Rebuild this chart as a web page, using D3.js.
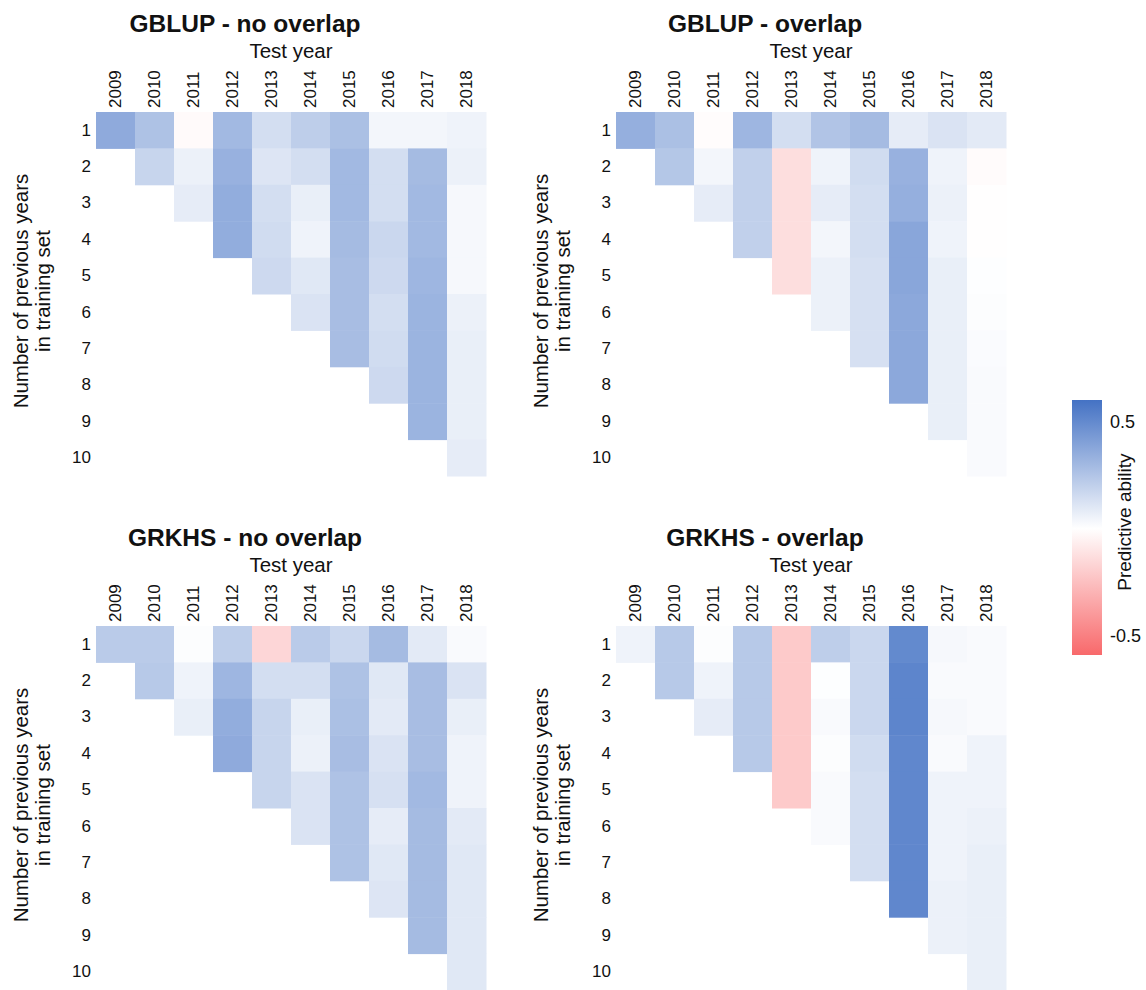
<!DOCTYPE html>
<html>
<head>
<meta charset="utf-8">
<script src="https://cdn.jsdelivr.net/npm/d3@7"></script>
<style>
  body { margin: 0; background: #fff; }
  svg text { font-family: "Liberation Sans", Arial, sans-serif; fill: #111; }
</style>
</head>
<body>
<div id="chart"></div>
<script>
// Test years (columns) and number of previous years in training set (rows)
const years = [2009, 2010, 2011, 2012, 2013, 2014, 2015, 2016, 2017, 2018];
const prevYears = [1, 2, 3, 4, 5, 6, 7, 8, 9, 10];

// One array per test year, values for rows 1..k
const gblupNoOverlap = [
  [0.36],
  [0.26, 0.18],
  [-0.02, 0.06, 0.08],
  [0.30, 0.33, 0.35, 0.35],
  [0.14, 0.11, 0.14, 0.15, 0.16],
  [0.21, 0.14, 0.07, 0.05, 0.10, 0.12],
  [0.27, 0.30, 0.30, 0.29, 0.28, 0.28, 0.28],
  [0.04, 0.14, 0.14, 0.17, 0.16, 0.14, 0.15, 0.16],
  [0.04, 0.29, 0.30, 0.30, 0.31, 0.32, 0.32, 0.32, 0.32],
  [0.05, 0.06, 0.03, 0.03, 0.03, 0.06, 0.07, 0.07, 0.07, 0.08]
];
const gblupOverlap = [
  [0.34],
  [0.27, 0.24],
  [-0.01, 0.04, 0.08],
  [0.31, 0.20, 0.20, 0.20],
  [0.14, -0.13, -0.13, -0.13, -0.13],
  [0.25, 0.05, 0.08, 0.04, 0.06, 0.06],
  [0.29, 0.15, 0.14, 0.14, 0.13, 0.13, 0.13],
  [0.08, 0.33, 0.34, 0.38, 0.38, 0.37, 0.37, 0.37],
  [0.12, 0.05, 0.06, 0.05, 0.07, 0.07, 0.07, 0.07, 0.07],
  [0.09, -0.015, -0.005, -0.005, 0.005, 0.01, 0.015, 0.02, 0.02, 0.02]
];
const grkhsNoOverlap = [
  [0.22],
  [0.22, 0.23],
  [0.01, 0.05, 0.07],
  [0.21, 0.31, 0.35, 0.36],
  [-0.16, 0.14, 0.18, 0.18, 0.18],
  [0.22, 0.14, 0.07, 0.06, 0.12, 0.12],
  [0.17, 0.26, 0.27, 0.28, 0.26, 0.26, 0.26],
  [0.29, 0.10, 0.09, 0.12, 0.13, 0.08, 0.10, 0.11],
  [0.09, 0.28, 0.28, 0.28, 0.30, 0.29, 0.29, 0.29, 0.29],
  [0.02, 0.12, 0.07, 0.05, 0.05, 0.09, 0.10, 0.10, 0.10, 0.10]
];
const grkhsOverlap = [
  [0.05],
  [0.23, 0.23],
  [0.01, 0.05, 0.08],
  [0.23, 0.23, 0.23, 0.23],
  [-0.21, -0.21, -0.21, -0.21, -0.21],
  [0.21, 0.005, 0.02, 0.01, 0.02, 0.02],
  [0.17, 0.17, 0.17, 0.15, 0.14, 0.14, 0.14],
  [0.50, 0.52, 0.52, 0.51, 0.51, 0.51, 0.51, 0.51],
  [0.03, 0.02, 0.03, 0.02, 0.05, 0.05, 0.05, 0.06, 0.06],
  [0.02, 0.02, 0.02, 0.05, 0.05, 0.06, 0.07, 0.07, 0.07, 0.07]
];

const panelTitles = ['GBLUP - no overlap', 'GBLUP - overlap', 'GRKHS - no overlap', 'GRKHS - overlap'];
const panelData = [gblupNoOverlap, gblupOverlap, grkhsNoOverlap, grkhsOverlap];
const legendTicks = [-0.5, 0.5];

const width = 1146;
const height = 990;

const svg = d3.select('#chart')
  .append('svg')
  .attr('width', width)
  .attr('height', height);

// Diverging colour scale: red - white - blue
const color = d3.scaleLinear()
  .domain([-0.59, 0, 0.6])
  .range(['#f8696b', '#ffffff', '#4472c4']);

// Panel layout
const offsets = [[0, 0], [520, 0], [0, 514], [520, 514]];
const gridLeft = 96, gridTop = 112, gridW = 390, gridH = 364;

const x = d3.scaleBand().domain(years).range([0, gridW]);
const y = d3.scaleBand().domain(prevYears).range([0, gridH]);

panelData.forEach((cols, p) => {
  const [ox, oy] = offsets[p];
  const panel = svg.append('g').attr('transform', `translate(${ox},${oy})`);

  // Title
  panel.append('text')
    .attr('x', 245)
    .attr('y', 32)
    .attr('text-anchor', 'middle')
    .style('font-size', '24.5px')
    .style('font-weight', 'bold')
    .text(panelTitles[p]);

  // X axis title
  panel.append('text')
    .attr('x', gridLeft + gridW / 2)
    .attr('y', 58)
    .attr('text-anchor', 'middle')
    .style('font-size', '20.5px')
    .text('Test year');

  // Y axis title (two lines)
  const yTitle = panel.append('text')
    .attr('transform', `translate(28,${gridTop + gridH / 2 - 3}) rotate(-90)`)
    .attr('text-anchor', 'middle')
    .style('font-size', '20.5px');
  yTitle.append('tspan').attr('x', 0).attr('y', 0).text('Number of previous years');
  yTitle.append('tspan').attr('x', 0).attr('y', 22).text('in training set');

  const grid = panel.append('g').attr('transform', `translate(${gridLeft},${gridTop})`);

  // Cells
  const cells = [];
  cols.forEach((vals, i) => {
    vals.forEach((v, j) => cells.push({ year: years[i], row: prevYears[j], value: v }));
  });

  grid.selectAll('.cell')
    .data(cells)
    .enter()
    .append('rect')
    .attr('class', 'cell')
    .attr('x', (d) => x(d.year))
    .attr('y', (d) => y(d.row))
    .attr('width', x.bandwidth() + 0.5)
    .attr('height', y.bandwidth() + 0.5)
    .attr('fill', (d) => color(d.value));

  // Year labels on top, rotated
  const xAxis = grid.append('g')
    .call(d3.axisTop(x).tickSize(0));
  xAxis.select('.domain').remove();
  xAxis.selectAll('text')
    .attr('transform', 'rotate(-90)')
    .attr('x', 4)
    .attr('y', 0)
    .attr('dy', '0.35em')
    .style('text-anchor', 'start')
    .style('font-size', '17px')
    .style('fill', '#111');

  // Row labels
  const yAxis = grid.append('g')
    .call(d3.axisLeft(y).tickSize(0).tickPadding(5));
  yAxis.select('.domain').remove();
  yAxis.selectAll('text')
    .style('font-size', '17px')
    .style('fill', '#111');
});

// Legend
const legendX = 1072, legendW = 30;
const ly = d3.scaleLinear().domain([-0.59, 0.6]).range([655, 400]);

const defs = svg.append('defs');
const grad = defs.append('linearGradient')
  .attr('id', 'legend-grad')
  .attr('x1', 0).attr('y1', 1)
  .attr('x2', 0).attr('y2', 0);
color.domain().forEach((d) => {
  grad.append('stop')
    .attr('offset', (d - ly.domain()[0]) / (ly.domain()[1] - ly.domain()[0]))
    .attr('stop-color', color(d));
});

svg.append('rect')
  .attr('x', legendX)
  .attr('y', ly(0.6))
  .attr('width', legendW)
  .attr('height', ly(-0.59) - ly(0.6))
  .attr('fill', 'url(#legend-grad)');

const legendAxis = svg.append('g')
  .attr('transform', `translate(${legendX + legendW},0)`)
  .call(d3.axisRight(ly).tickValues(legendTicks).tickSize(0).tickPadding(8).tickFormat((d) => d.toString()));
legendAxis.select('.domain').remove();
legendAxis.selectAll('text')
  .style('font-size', '18px')
  .style('fill', '#111');

svg.append('text')
  .attr('transform', `translate(1131,${ly(0.03)}) rotate(-90)`)
  .attr('text-anchor', 'middle')
  .style('font-size', '19px')
  .text('Predictive ability');
</script>
</body>
</html>
